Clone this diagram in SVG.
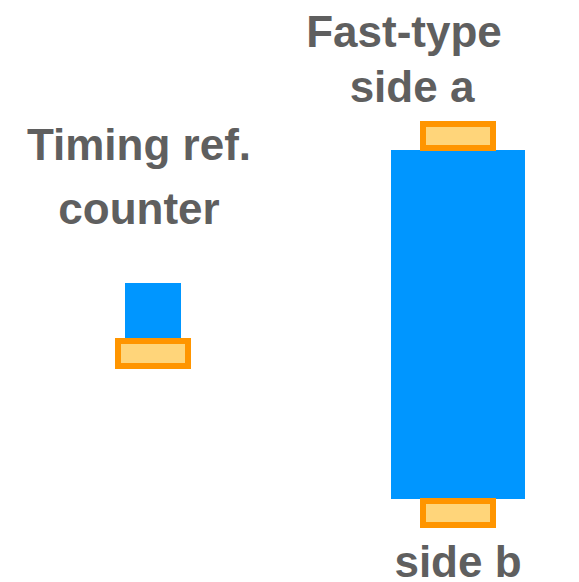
<svg xmlns="http://www.w3.org/2000/svg" width="579" height="582" viewBox="0 0 579 582">
<style>
.lbl{font-family:"Liberation Sans",Arial,sans-serif;font-weight:bold;font-size:44px;fill:#5f5f5f;text-anchor:middle}
.blue{fill:#0096ff}
.pad{fill:#ffd57a;stroke:#ff9500;stroke-width:6}
</style>
<rect width="579" height="582" fill="#ffffff"/>
<g id="timing-counter">
<text class="lbl" x="139" y="160">Timing ref.</text>
<text class="lbl" x="139" y="224">counter</text>
<rect class="blue" x="125" y="283" width="56" height="56"/>
<rect class="pad" x="118" y="341" width="70" height="25"/>
</g>
<g id="fast-type">
<text class="lbl" x="404" y="47">Fast-type</text>
<text class="lbl" x="412" y="102">side a</text>
<rect class="blue" x="391" y="150" width="134" height="349"/>
<rect class="pad" x="423" y="124" width="70" height="24"/>
<rect class="pad" x="423" y="501" width="70" height="24"/>
<text class="lbl" x="458" y="577">side b</text>
</g>
<g id="connectors"/>
</svg>
